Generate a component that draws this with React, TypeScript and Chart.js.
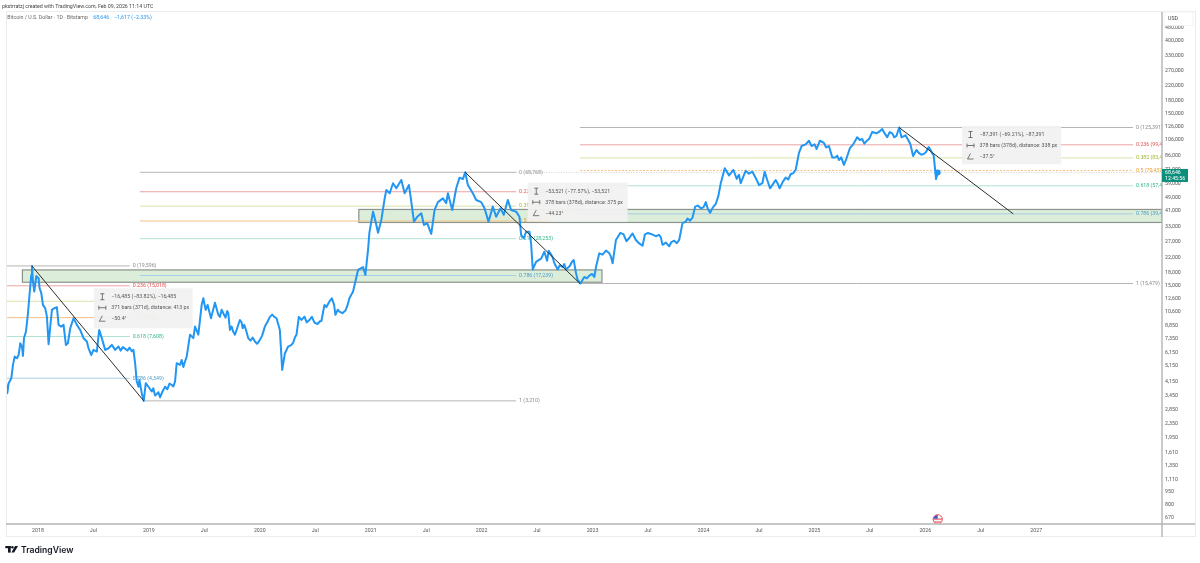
import React, { useEffect, useRef } from "react";
import { Chart, registerables } from "chart.js";

Chart.register(...registerables);

// BTCUSD, dates as decimal years
const priceDates = [
  2017.712, 2017.724, 2017.736, 2017.76, 2017.775, 2017.79, 2017.811, 2017.826, 2017.841, 2017.856, 2017.865, 2017.874,
  2017.892, 2017.91, 2017.928, 2017.94, 2017.946, 2017.955, 2017.967, 2017.985, 2018.006, 2018.015, 2018.03, 2018.045,
  2018.066, 2018.081, 2018.096, 2018.111, 2018.126, 2018.147, 2018.171, 2018.186, 2018.21, 2018.231, 2018.252, 2018.27,
  2018.291, 2018.321, 2018.351, 2018.381, 2018.411, 2018.441, 2018.456, 2018.48, 2018.501, 2018.531, 2018.552, 2018.576,
  2018.606, 2018.636, 2018.666, 2018.696, 2018.726, 2018.786, 2018.861, 2018.876, 2018.891, 2018.906, 2018.915, 2018.936,
  2018.954, 2018.972, 2018.996, 2019.026, 2019.071, 2019.101, 2019.123, 2019.146, 2019.206, 2019.236, 2019.251, 2019.281,
  2019.326, 2019.341, 2019.371, 2019.401, 2019.416, 2019.446, 2019.476, 2019.491, 2019.512, 2019.53, 2019.56, 2019.596,
  2019.626, 2019.671, 2019.716, 2019.731, 2019.776, 2019.821, 2019.86, 2019.896, 2019.956, 2020.001, 2020.046, 2020.112,
  2020.151, 2020.181, 2020.202, 2020.226, 2020.256, 2020.286, 2020.331, 2020.352, 2020.376, 2020.403, 2020.448, 2020.493,
  2020.556, 2020.583, 2020.628, 2020.67, 2020.682, 2020.718, 2020.772, 2020.808, 2020.841, 2020.862, 2020.886, 2020.931,
  2020.952, 2020.976, 2020.988, 2021.021, 2021.051, 2021.066, 2021.096, 2021.126, 2021.141, 2021.171, 2021.201, 2021.231,
  2021.276, 2021.306, 2021.345, 2021.372, 2021.39, 2021.42, 2021.456, 2021.48, 2021.51, 2021.546, 2021.576, 2021.606,
  2021.651, 2021.681, 2021.696, 2021.735, 2021.771, 2021.801, 2021.831, 2021.852, 2021.876, 2021.921, 2021.951, 2021.996,
  2022.026, 2022.062, 2022.101, 2022.131, 2022.17, 2022.2, 2022.236, 2022.266, 2022.311, 2022.341, 2022.356, 2022.38,
  2022.401, 2022.431, 2022.446, 2022.461, 2022.491, 2022.536, 2022.566, 2022.62, 2022.656, 2022.686, 2022.731, 2022.761,
  2022.83, 2022.851, 2022.866, 2022.89, 2022.926, 2022.971, 2023.016, 2023.031, 2023.061, 2023.121, 2023.181, 2023.211,
  2023.28, 2023.331, 2023.391, 2023.451, 2023.472, 2023.526, 2023.616, 2023.631, 2023.691, 2023.736, 2023.781, 2023.811,
  2023.856, 2023.901, 2023.925, 2023.976, 2024.021, 2024.06, 2024.111, 2024.156, 2024.192, 2024.231, 2024.27, 2024.336,
  2024.381, 2024.441, 2024.501, 2024.531, 2024.552, 2024.6, 2024.651, 2024.687, 2024.741, 2024.786, 2024.831, 2024.861,
  2024.885, 2024.921, 2024.951, 2024.975, 2025.002, 2025.02, 2025.05, 2025.086, 2025.131, 2025.161, 2025.191, 2025.206,
  2025.221, 2025.242, 2025.266, 2025.29, 2025.32, 2025.35, 2025.386, 2025.41, 2025.431, 2025.47, 2025.521, 2025.56,
  2025.611, 2025.656, 2025.701, 2025.74, 2025.764, 2025.785, 2025.821, 2025.866, 2025.89, 2025.92, 2025.941, 2025.986,
  2026.031, 2026.076, 2026.097, 2026.112,
];
const priceValues = [
  4085, 3560, 4070, 4350, 5200, 5810, 5690, 5950, 6950, 6640, 5870, 7440,
  8130, 10390, 14210, 17380, 19596, 15900, 13900, 17100, 16600, 14530, 13600, 11620,
  11100, 9930, 6860, 8690, 10870, 11120, 11270, 8890, 8690, 8890, 6800, 6950,
  8500, 9720, 8890, 8310, 7440, 7110, 6500, 5940, 6360, 6220, 8310, 7440,
  6360, 6500, 6800, 6360, 6650, 6450, 6360, 5320, 4160, 3880, 4250, 3560,
  3210, 4070, 3880, 3640, 3520, 3370, 3640, 3880, 3970, 4160, 5320, 5200,
  5440, 5810, 7800, 7450, 8690, 7800, 11620, 12700, 10870, 11620, 9720, 11950,
  10200, 10400, 10400, 8310, 7800, 9500, 8890, 7440, 7110, 7270, 8690, 10200,
  9720, 8310, 4860, 6060, 6650, 6800, 7800, 9900, 9500, 9930, 9500, 9170,
  9400, 11620, 12170, 11620, 10170, 10630, 10770, 12700, 13900, 15900, 18580, 19300,
  17380, 24290, 30500, 40600, 33950, 30600, 36300, 48500, 54270, 51900, 59400, 55500,
  62050, 51900, 58000, 43400, 35500, 37900, 39700, 33950, 34700, 30100, 41510, 46100,
  48500, 45500, 51900, 41500, 55500, 64000, 62800, 68768, 58000, 51900, 47460, 46100,
  42500, 35500, 43400, 37900, 42500, 38900, 47460, 41510, 40600, 37900, 29700, 28400,
  31000, 31000, 26500, 18700, 20700, 21600, 23700, 23200, 20300, 18700, 19300, 18700,
  21240, 17800, 16250, 15479, 16900, 17200, 16900, 19300, 23200, 24100, 20300, 27770,
  29900, 28500, 27770, 25700, 29900, 30100, 28700, 26000, 25500, 27500, 27770, 34800,
  37000, 37400, 43400, 42500, 46100, 40000, 45000, 59400, 72600, 66000, 70950, 59400,
  70300, 69300, 58000, 59400, 69300, 55500, 62050, 55500, 64000, 67000, 70950, 89300,
  97800, 100000, 105000, 97800, 100000, 94000, 105000, 102000, 97800, 84000, 84000, 86000,
  81100, 84000, 76000, 83000, 95000, 100000, 110000, 106000, 107500, 104500, 118000, 116000,
  123000, 110000, 116000, 112000, 125391, 110000, 113000, 100000, 85500, 92750, 89300, 88000,
  96500, 86000, 62800, 68646,
];

// second pass of readings in the flatter stretches
const detailDates = [
  2018.746, 2018.766, 2018.806, 2018.826, 2018.846, 2019.04, 2019.056, 2019.086, 2019.166, 2019.186, 2019.221, 2019.296,
  2019.311, 2019.641, 2019.656, 2019.691, 2019.706, 2019.746, 2019.761, 2019.791, 2019.806, 2019.836, 2019.846, 2019.876,
  2019.916, 2019.936, 2019.976, 2020.021, 2020.071, 2020.091, 2020.131, 2020.301, 2020.316, 2020.423, 2020.47, 2020.52,
  2020.54, 2020.601, 2020.65, 2020.703, 2020.745, 2020.79, 2022.59, 2022.605, 2022.64, 2022.705, 2022.745, 2022.795,
  2022.812, 2022.948, 2022.995, 2023.09, 2023.151, 2023.166, 2023.25, 2023.305, 2023.361, 2023.421, 2023.5, 2023.57,
  2023.6, 2023.661, 2023.711, 2023.76, 2023.84, 2023.88, 2023.95, 2024.0, 2024.04, 2024.085, 2024.134, 2024.3,
  2024.32, 2024.41, 2024.47, 2024.575, 2024.625, 2024.67, 2024.715, 2024.765, 2024.81, 2025.105, 2025.45, 2025.495,
  2025.585, 2025.635, 2025.68, 2025.72, 2025.85, 2025.965, 2026.005,
];
const detailValues = [
  6300, 6600, 6300, 6550, 6250, 3800, 3450, 3600, 3750, 4050, 3900, 5550,
  5050, 9900, 10900, 9800, 10700, 8700, 8100, 8300, 8900, 9200, 8500, 8300,
  7200, 7500, 6900, 7700, 9300, 9900, 9900, 7000, 7500, 9200, 9900, 9000,
  9300, 11300, 12700, 10900, 10400, 11500, 21000, 24000, 22000, 19800, 20100, 19600,
  20600, 16600, 17600, 22800, 23200, 22200, 30500, 27300, 30300, 26500, 30500, 29200,
  29700, 26800, 27000, 26600, 35500, 36000, 44000, 43000, 42000, 43000, 50000, 63000,
  66500, 67500, 64000, 62000, 58500, 59000, 60500, 62500, 68000, 96000, 101000, 108000,
  118500, 115500, 118000, 110000, 105000, 87000, 90000,
];

const yTicks = [
  480000, 400000, 330000, 270000, 220000, 180000, 150000, 126000, 106000, 86000, 71000, 59000, 49000, 41000, 33000,
  27000, 22000, 18000, 15000, 12600, 10600, 8850, 7350, 6150, 5150, 4150, 3450, 2850, 2350, 1950, 1610, 1350, 1110,
  950, 800, 670,
];
const xTicks = [
  2018, 2018.5, 2019, 2019.5, 2020, 2020.5, 2021, 2021.5, 2022, 2022.5, 2023, 2023.5, 2024, 2024.5, 2025, 2025.5, 2026,
  2026.5, 2027,
];
const xTickLabels = [
  "2018", "Jul", "2019", "Jul", "2020", "Jul", "2021", "Jul", "2022", "Jul", "2023", "Jul", "2024", "Jul", "2025", "Jul",
  "2026", "Jul", "2027",
];

// fib retracement levels, one array per drawing
const fibRatios = ["0", "0.236", "0.382", "0.5", "0.618", "0.786"];
const fibLeftPrices = [19596, 15018, 12200, 9800, 7608, 4349];
const fibMidPrices = [68768, 53000, 43700, 35800, 28253, 17239];
const fibRightPrices = [125391, 99427, 83400, 70437, 57400, 39400];
const fibLeftRange = [2017.712, 2018.828];
const fibMidRange = [2018.918, 2022.311];
const fibRightRange = [2022.887, 2027.873];
const fibLeftLow = 3210;
const fibLeftLowRange = [2018.954, 2022.311];
const fibRightLow = 15479;
const lastPrice = 68646;
const lastPriceRange = [2022.311, 2028.134];

const trendDates = [
  [2017.946, 2018.954],
  [2021.852, 2022.887],
  [2025.764, 2026.793],
];
const trendPrices = [
  [19596, 3210],
  [68768, 15479],
  [125391, 39400],
];

// green zones: from date, to date, top price, bottom price
const zoneLow = [2017.86, 2023.085, 18580, 15750];
const zoneHigh = [2020.893, 2028.134, 41800, 35100];

// measure callouts
const measureDates = [
  [2018.504, 2019.395],
  [2022.416, 2023.316],
  [2026.331, 2027.225],
];
const measurePrices = [
  [14540, 8505],
  [59830, 35480],
  [127940, 76600],
];
const measureTexts = [
  ["\u221216,485 (\u221283.82%), \u221216,485", "371 bars (371d), distance: 413 px", "\u221250.4\u00b0"],
  ["\u221253,521 (\u221277.57%), \u221253,521", "378 bars (378d), distance: 375 px", "\u221244.23\u00b0"],
  ["\u221287,391 (\u221269.21%), \u221287,391", "378 bars (378d), distance: 338 px", "\u221237.5\u00b0"],
];

const BLUE = "#2196f3";
const FONT = "Roboto, Arial, sans-serif";
const SMALL = `5.25px ${FONT}`;
const fibLineColors = ["#b5b5b5", "#eda3a3", "#d9e3a8", "#f6c184", "#b0e2d8", "#a5cfe6"];
const fibTextColors = ["#8a8a8a", "#e2504c", "#a0b82f", "#f09a2e", "#2fb58f", "#4d9cc4"];

const level = (range: number[], price: number, color: string, dash?: number[]) => ({
  data: [
    { x: range[0], y: price },
    { x: range[1], y: price },
  ],
  borderColor: color,
  borderWidth: 1,
  borderDash: dash || [],
  pointRadius: 0,
});

const fibSets = (range: number[], prices: number[]) =>
  prices.map((p, i) => level(range, p, fibLineColors[i], i === 3 && range === fibRightRange ? [2, 1.5] : []));

const overlays = {
  id: "overlays",
  beforeDatasetsDraw(chart: any) {
    const { ctx, chartArea, scales } = chart;
    const X = (v: number) => scales.x.getPixelForValue(v);
    const Y = (v: number) => scales.y.getPixelForValue(v);
    ctx.save();
    ctx.beginPath();
    ctx.rect(chartArea.left, chartArea.top, chartArea.width, chartArea.height);
    ctx.clip();
    for (const z of [zoneLow, zoneHigh]) {
      ctx.fillStyle = "#dcedda";
      ctx.strokeStyle = "#8b948c";
      ctx.lineWidth = 1.2;
      ctx.fillRect(X(z[0]), Y(z[2]), X(z[1]) - X(z[0]), Y(z[3]) - Y(z[2]));
      ctx.strokeRect(X(z[0]), Y(z[2]), X(z[1]) - X(z[0]), Y(z[3]) - Y(z[2]));
    }
    ctx.font = SMALL;
    ctx.textBaseline = "middle";
    ctx.textAlign = "left";
    const labels = (range: number[], prices: number[]) => {
      prices.forEach((p, i) => {
        ctx.fillStyle = fibTextColors[i];
        ctx.fillText(`${fibRatios[i]} (${p.toLocaleString("en-US")})`, X(range[1]) + 3, Y(p));
      });
    };
    labels(fibLeftRange, fibLeftPrices);
    labels(fibMidRange, fibMidPrices);
    labels(fibRightRange, fibRightPrices);
    ctx.fillStyle = "#8a8a8a";
    ctx.fillText(`1 (${fibLeftLow.toLocaleString("en-US")})`, X(fibLeftLowRange[1]) + 3, Y(fibLeftLow));
    ctx.fillText(`1 (${fibRightLow.toLocaleString("en-US")})`, X(fibRightRange[1]) + 3, Y(fibRightLow));
    ctx.restore();
  },
  afterDraw(chart: any) {
    const { ctx, chartArea, scales } = chart;
    const X = (v: number) => scales.x.getPixelForValue(v);
    const Y = (v: number) => scales.y.getPixelForValue(v);
    const { left, right, bottom } = chartArea;
    ctx.save();
    // measure callouts
    measureDates.forEach((d, i) => {
      const x0 = X(d[0]);
      const y0 = Y(measurePrices[i][0]);
      const w = X(d[1]) - x0;
      const h = Y(measurePrices[i][1]) - y0;
      ctx.fillStyle = "rgba(241,241,241,0.95)";
      ctx.fillRect(x0, y0, w, h);
      ctx.font = SMALL;
      ctx.fillStyle = "#555";
      ctx.textAlign = "left";
      ctx.textBaseline = "middle";
      measureTexts[i].forEach((t, k) => {
        const ty = y0 + 8.5 + k * 11;
        ctx.fillText(t, x0 + 17.5, ty);
        const ix = x0 + 8.5;
        ctx.strokeStyle = "#555";
        ctx.lineWidth = 0.8;
        ctx.beginPath();
        if (k === 0) {
          ctx.moveTo(ix - 2, ty - 3); ctx.lineTo(ix + 2, ty - 3);
          ctx.moveTo(ix, ty - 3); ctx.lineTo(ix, ty + 3);
          ctx.moveTo(ix - 2, ty + 3); ctx.lineTo(ix + 2, ty + 3);
        } else if (k === 1) {
          ctx.moveTo(ix - 3.5, ty - 2); ctx.lineTo(ix - 3.5, ty + 2);
          ctx.moveTo(ix - 3.5, ty); ctx.lineTo(ix + 3.5, ty);
          ctx.moveTo(ix + 3.5, ty - 2); ctx.lineTo(ix + 3.5, ty + 2);
        } else {
          ctx.moveTo(ix + 3, ty + 2.5); ctx.lineTo(ix - 3, ty + 2.5); ctx.lineTo(ix, ty - 3);
        }
        ctx.stroke();
      });
    });
    // frame and axis lines
    ctx.strokeStyle = "#ececec";
    ctx.lineWidth = 1;
    ctx.strokeRect(left + 0.5, chartArea.top - 0.5, 1195 - left, 537 - chartArea.top);
    ctx.strokeStyle = "#b4b4b4";
    ctx.lineWidth = 1.4;
    ctx.beginPath();
    ctx.moveTo(right, chartArea.top);
    ctx.lineTo(right, 537);
    ctx.moveTo(left, bottom);
    ctx.lineTo(1195, bottom);
    ctx.stroke();
    // USD button
    ctx.fillStyle = "#fff";
    ctx.fillRect(right + 2, 12, 29, 13.5);
    ctx.strokeStyle = "#f0f0f0";
    ctx.lineWidth = 0.7;
    ctx.strokeRect(right + 2, 12, 29, 13.5);
    ctx.font = SMALL;
    ctx.fillStyle = "#444";
    ctx.textAlign = "left";
    ctx.textBaseline = "middle";
    ctx.fillText("USD", right + 6, 19);
    // last price tag
    const py = Y(lastPrice);
    ctx.fillStyle = "#0a8f7c";
    ctx.fillRect(right, py - 3.5, 26, 13);
    ctx.fillStyle = "#fff";
    ctx.fillText("68,646", right + 3, py - 0.2);
    ctx.fillText("12:45:56", right + 3, py + 6);
    // flag under the last bar
    const fx = X(2026.112);
    const fy = 519.3;
    ctx.save();
    ctx.beginPath();
    ctx.rect(fx - 8, fy - 8, 16, bottom - fy + 7.3);
    ctx.clip();
    ctx.beginPath();
    ctx.arc(fx, fy, 4.6, 0, Math.PI * 2);
    ctx.fillStyle = "#fff";
    ctx.fill();
    ctx.save();
    ctx.clip();
    ctx.fillStyle = "#e9818a";
    ctx.fillRect(fx - 5, fy - 1, 10, 1.6);
    ctx.fillRect(fx - 5, fy + 2, 10, 1.6);
    ctx.fillStyle = "#3f5fc4";
    ctx.fillRect(fx - 5, fy - 5, 5, 4.4);
    ctx.restore();
    ctx.strokeStyle = "#e8535f";
    ctx.lineWidth = 1;
    ctx.stroke();
    ctx.restore();
    // header lines
    ctx.textAlign = "left";
    ctx.textBaseline = "middle";
    ctx.font = SMALL;
    ctx.fillStyle = "#444";
    ctx.fillText("pkstrratzj created with TradingView.com, Feb 09, 2026 11:14 UTC", 2, 6.5);
    ctx.fillStyle = "#666";
    ctx.fillText("Bitcoin / U.S. Dollar \u00b7 1D \u00b7 Bitstamp", 7.3, 17.8);
    ctx.fillStyle = BLUE;
    ctx.fillText("68,646", 93.3, 17.8);
    ctx.fillText("\u22121,617 (\u22122.33%)", 114, 17.8);
    // logo
    ctx.fillStyle = "#131722";
    ctx.fillRect(5.3, 546, 5.4, 2.2);
    ctx.fillRect(8, 546, 2.7, 6.6);
    ctx.beginPath();
    ctx.arc(12.4, 547.2, 1.2, 0, Math.PI * 2);
    ctx.fill();
    ctx.beginPath();
    ctx.moveTo(15, 546);
    ctx.lineTo(18, 546);
    ctx.lineTo(14.2, 552.6);
    ctx.lineTo(11.4, 552.6);
    ctx.closePath();
    ctx.fill();
    ctx.font = `600 8.6px Inter, ${FONT}`;
    ctx.fillText("TradingView", 21, 550);
    ctx.restore();
  },
};

const App = () => {
  const canvasRef = useRef<HTMLCanvasElement>(null);

  useEffect(() => {
    const ctx = canvasRef.current!.getContext("2d")!;
    const pricePoints = [
      ...priceDates.map((x, i) => ({ x, y: priceValues[i] })),
      ...detailDates.map((x, i) => ({ x, y: detailValues[i] })),
    ].sort((a, b) => a.x - b.x);
    const last = pricePoints.length - 1;
    const chart = new Chart(ctx, {
      type: "line",
      data: {
        datasets: [
          ...trendDates.map((d, i) => ({
            data: d.map((x, k) => ({ x, y: trendPrices[i][k] })),
            borderColor: "#2b2b2b",
            borderWidth: 1,
            pointRadius: 0,
          })),
          {
            data: pricePoints,
            borderColor: BLUE,
            backgroundColor: BLUE,
            borderWidth: 2,
            borderJoinStyle: "round",
            pointRadius: (c: any) => (c.dataIndex === last ? 2 : 0),
          },
          ...fibSets(fibLeftRange, fibLeftPrices),
          ...fibSets(fibMidRange, fibMidPrices),
          ...fibSets(fibRightRange, fibRightPrices),
          level(fibLeftLowRange, fibLeftLow, "#b5b5b5"),
          level(fibRightRange, fibRightLow, "#b5b5b5"),
          level(lastPriceRange, lastPrice, "#d4d4d4", [1, 1.5]),
        ] as any,
      },
      options: {
        responsive: false,
        animation: false,
        events: [],
        layout: { padding: { left: 4, top: 12, right: 0, bottom: 0 } },
        plugins: { legend: { display: false }, tooltip: { enabled: false } },
        scales: {
          x: {
            type: "linear",
            min: 2017.712,
            max: 2028.134,
            grid: { display: false, drawTicks: false },
            border: { display: false },
            afterBuildTicks: (s: any) => {
              s.ticks = xTicks.map((value) => ({ value }));
            },
            afterFit: (s: any) => {
              s.height = 39;
            },
            ticks: {
              autoSkip: false,
              maxRotation: 0,
              padding: 4,
              color: "#555",
              font: { size: 5.25, family: FONT },
              callback: (_v: any, i: number) => xTickLabels[i],
            },
          },
          y: {
            type: "logarithmic",
            position: "right",
            min: 616,
            max: 590000,
            bounds: "data",
            grid: { display: false, drawTicks: false },
            border: { display: false },
            afterBuildTicks: (s: any) => {
              s.ticks = yTicks.map((value) => ({ value }));
            },
            afterFit: (s: any) => {
              s.width = 38;
            },
            ticks: {
              autoSkip: false,
              crossAlign: "near",
              padding: 3,
              color: "#555",
              font: { size: 5.25, family: FONT },
              callback: (v: any) => Number(v).toLocaleString("en-US"),
            },
          },
        },
      },
      plugins: [overlays],
    } as any);
    return () => chart.destroy();
  }, []);

  return (
    <div style={{ position: "fixed", left: 0, top: 0, width: 1200, height: 563, background: "#fff" }}>
      <canvas ref={canvasRef} width={1200} height={563} style={{ display: "block" }} />
    </div>
  );
};

export default App;
